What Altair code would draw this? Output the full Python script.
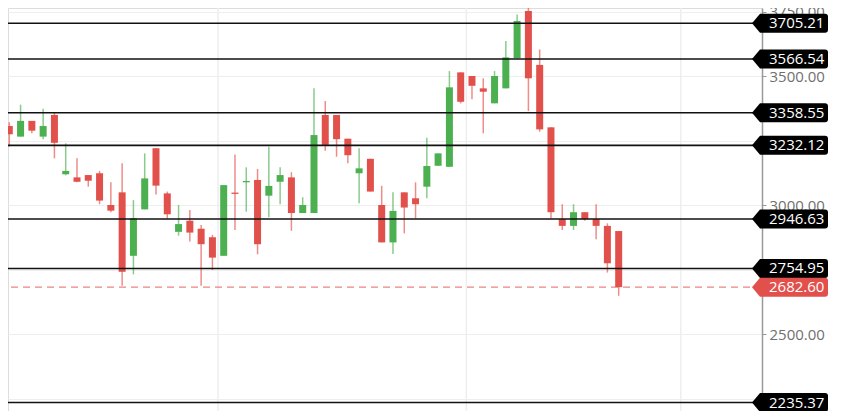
import altair as alt
import pandas as pd

# ---- data ----
opens  = [3323, 3307, 3266, 3327, 3266, 3350, 3120, 3108, 3117, 3124, 3001, 3050, 2804, 2984,
          3221, 3046, 2897, 2940, 2909, 2876, 2804, 3049, 3089, 3098, 3037, 3091, 3108, 2970,
          2970, 3350, 3350, 3258, 3124, 3180, 3001, 2856, 3050, 3027, 3072, 3153, 3149, 3515,
          3501, 3453, 3395, 3453, 3570, 3753, 3544, 3302, 2946, 2920, 2973, 2946, 2920, 2900]
highs  = [3330, 3322, 3390, 3327, 3374, 3359, 3240, 3182, 3117, 3133, 3089, 3163, 3020, 3201,
          3221, 3053, 3001, 2982, 2923, 2885, 3078, 3197, 3147, 3141, 3227, 3147, 3128, 3031,
          3453, 3404, 3350, 3258, 3221, 3180, 3075, 3050, 3050, 3089, 3262, 3201, 3520, 3515,
          3501, 3492, 3520, 3637, 3739, 3815, 3604, 3302, 3004, 3004, 2973, 3004, 2930, 2900]
lows   = [3290, 3227, 3266, 3279, 3256, 3182, 3116, 3089, 3072, 3004, 2973, 2688, 2732, 2984,
          3042, 2949, 2882, 2859, 2688, 2749, 2804, 2904, 2975, 2810, 2953, 3004, 2901, 2970,
          2970, 3211, 3188, 3163, 3008, 3053, 2856, 2811, 2891, 2949, 3027, 3153, 3149, 3395,
          3411, 3279, 3395, 3453, 3570, 3365, 3285, 2949, 2904, 2904, 2940, 2868, 2739, 2649]
closes = [3296, 3275, 3327, 3289, 3307, 3242, 3133, 3091, 3095, 3018, 2979, 2742, 2949, 3104,
          3076, 2965, 2927, 2894, 2849, 2797, 3078, 3044, 3094, 2849, 3075, 3117, 2970, 3001,
          3272, 3234, 3256, 3194, 3143, 3053, 2856, 2978, 2991, 3004, 3152, 3201, 3457, 3401,
          3463, 3440, 3501, 3573, 3714, 3492, 3294, 2973, 2920, 2973, 2946, 2920, 2775, 2682.6]

levels = [3705.21, 3566.54, 3358.55, 3232.12, 2946.63, 2754.95, 2235.37]
last_price = 2682.60
month_breaks = [19.5, 41.5, 60.5]
y_ticks = [2250, 2500, 2750, 3000, 3250, 3500, 3750]
hidden_tick_labels = [2250, 2750, 3250]  # covered by the level tags in the reference

GREEN = "#4caf50"
RED = "#e2504c"

candles = pd.DataFrame({
    "i": list(range(len(opens))),
    "open": opens, "high": highs, "low": lows, "close": closes,
})
candles["dir"] = ["up" if c >= o else "down" for o, c in zip(opens, closes)]

lv = pd.DataFrame({"v": levels, "label": [f"{v:.2f}" for v in levels]})
lp = pd.DataFrame({"v": [last_price], "label": [f"{last_price:.2f}"]})
mb = pd.DataFrame({"i": month_breaks})

xs = alt.Scale(domain=[0.886, 67.70], nice=False, zero=False, padding=0)
ys = alt.Scale(domain=[2202.5, 3764.5], nice=False, zero=False, padding=0)
col = alt.Color("dir:N", scale=alt.Scale(domain=["up", "down"], range=[GREEN, RED]), legend=None)

hide_expr = " || ".join(f"datum.value == {v}" for v in hidden_tick_labels)
yaxis = alt.Axis(orient="right", values=y_ticks, format=".2f", grid=True,
                 labelExpr=f"({hide_expr}) ? '' : format(datum.value, '.2f')",
                 gridColor="#eeeeee", gridWidth=1, domainColor="#999999", domainWidth=1.5,
                 tickColor="#999999", tickSize=4, labelColor="#6f6f6f", labelFontSize=15,
                 labelFont="Open Sans", labelPadding=3, labelOverlap=False, title=None)

base = alt.Chart(candles)

vgrid = alt.Chart(mb).mark_rule(color="#eeeeee", strokeWidth=1.5).encode(
    x=alt.X("i:Q", scale=xs, axis=None),
    y=alt.value(0), y2=alt.value(403))

wicks = base.mark_rule(strokeWidth=1.5, opacity=0.65, clip=True).encode(
    x=alt.X("i:Q", scale=xs, axis=None),
    y=alt.Y("low:Q", scale=ys, axis=yaxis),
    y2="high:Q",
    color=col)

bodies = base.mark_bar(size=7, clip=True).encode(
    x=alt.X("i:Q", scale=xs),
    y=alt.Y("open:Q", scale=ys),
    y2="close:Q",
    color=col)

level_lines = alt.Chart(lv).mark_rule(color="#111111", strokeWidth=1.6).encode(
    y=alt.Y("v:Q", scale=ys))

last_line = alt.Chart(lp).mark_rule(color=RED, strokeDash=[7, 5], strokeWidth=1.3, opacity=0.7).encode(
    y=alt.Y("v:Q", scale=ys))

tag_path = ("M -0.95 0 L -0.75 -0.2375 L 0.875 -0.2375 Q 0.95 -0.2375 0.95 -0.1625 "
            "L 0.95 0.1625 Q 0.95 0.2375 0.875 0.2375 L -0.75 0.2375 Z")

tags = alt.Chart(lv).mark_point(shape=tag_path, filled=True, size=6400, opacity=1,
                                 color="#000000", strokeWidth=0).encode(
    x=alt.value(782), y=alt.Y("v:Q", scale=ys))
tag_text = alt.Chart(lv).mark_text(align="left", baseline="middle", color="#ffffff",
                                    font="Open Sans", fontSize=15).encode(
    x=alt.value(761), y=alt.Y("v:Q", scale=ys), text="label:N")

last_tag = alt.Chart(lp).mark_point(shape=tag_path, filled=True, size=6400, opacity=1,
                                     color=RED, strokeWidth=0).encode(
    x=alt.value(782), y=alt.Y("v:Q", scale=ys))
last_text = alt.Chart(lp).mark_text(align="left", baseline="middle", color="#ffffff",
                                     font="Open Sans", fontSize=15).encode(
    x=alt.value(761), y=alt.Y("v:Q", scale=ys), text="label:N")

chart = alt.layer(
    vgrid, wicks, bodies, last_line, level_lines, tags, tag_text, last_tag, last_text
).properties(
    width=754, height=403,
    autosize=alt.AutoSizeParams(type="none"),
    padding={"left": 0, "top": 0, "right": 73, "bottom": 0},
).configure_view(stroke=None).configure(background="#ffffff")

chart.save("out.html", embed_options={"renderer": "svg", "actions": False})
